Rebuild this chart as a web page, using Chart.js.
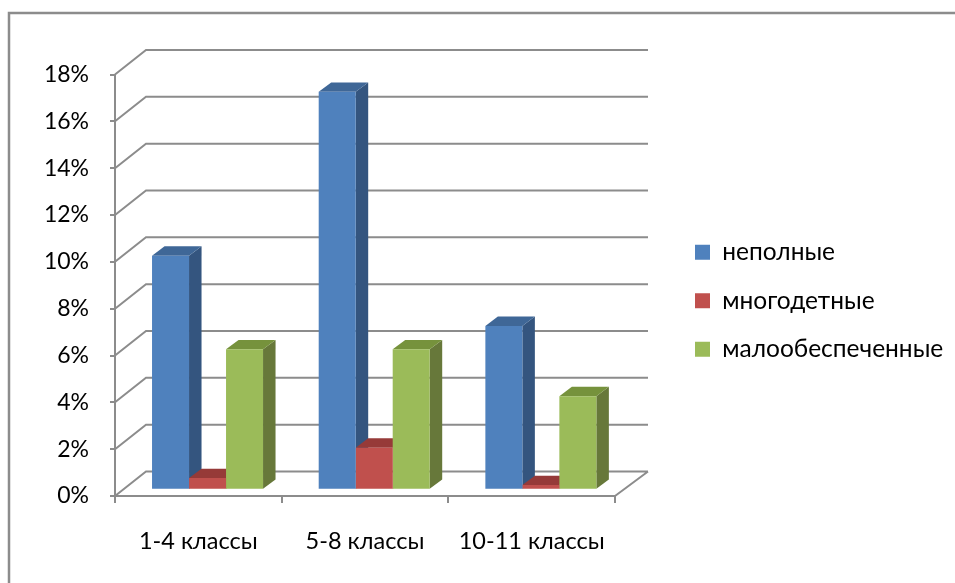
<!DOCTYPE html>
<html><head><meta charset="utf-8">
<style>html,body{margin:0;padding:0;background:#fff}canvas{display:block}</style>
<script src="https://cdn.jsdelivr.net/npm/chart.js@4"></script>
</head><body>
<canvas id="c" width="955" height="583"></canvas>
<script>
const categories = ['1-4 классы', '5-8 классы', '10-11 классы'];
const seriesNames = ['неполные', 'многодетные', 'малообеспеченные'];
const incomplete = [10, 17, 7];
const large = [0.5, 1.8, 0.2];
const lowIncome = [6, 6, 4];
const frontColors = ['#4F81BD', '#C0504D', '#9BBB59'];
const sideColors = ['#34557F', '#8E3937', '#67783A'];
const topColors = ['#3F6797', '#963A38', '#76923C'];
const GRID = '#8C8C8C', FONT = 'Lato, Carlito, "Open Sans", sans-serif';
const WALL = {dx: 31, dy: -24.5}, BAR_SHIFT = {dx: 9.2, dy: -6.2}, BAR_DEPTH = {dx: 12.5, dy: -9.3};

function poly(ctx, pts, fill) {
  ctx.beginPath();
  pts.forEach((p, i) => i ? ctx.lineTo(p[0], p[1]) : ctx.moveTo(p[0], p[1]));
  ctx.closePath();
  ctx.fillStyle = fill;
  ctx.fill();
}
const depthPlugin = {
  id: 'depth',
  afterLayout(chart) {
    const lg = chart.legend;
    lg.left = 695 - 24; lg.right = chart.width;
    lg.top = 216; lg.bottom = chart.height;
  },
  beforeDraw(chart) {
    const ctx = chart.ctx;
    ctx.save();
    ctx.strokeStyle = GRID; ctx.lineWidth = 2.5;
    ctx.beginPath();
    ctx.moveTo(9, 590); ctx.lineTo(9, 13); ctx.lineTo(960, 13);
    ctx.stroke();
    ctx.restore();
  },
  beforeDatasetsDraw(chart) {
    const ctx = chart.ctx, {x, y} = chart.scales, L = x.left, R = x.right;
    ctx.save();
    ctx.strokeStyle = GRID; ctx.lineWidth = 2;
    ctx.beginPath();
    y.ticks.forEach(t => {
      const py = y.getPixelForValue(t.value);
      ctx.moveTo(L, py);
      ctx.lineTo(L + WALL.dx, py + WALL.dy);
      ctx.lineTo(R + WALL.dx + 2, py + WALL.dy);
    });
    const y0 = y.getPixelForValue(0);
    ctx.moveTo(R, y0); ctx.lineTo(R + WALL.dx + 2, y0 + WALL.dy);
    ctx.stroke();
    ctx.restore();
    ctx.save();
    ctx.translate(BAR_SHIFT.dx, BAR_SHIFT.dy);
    const {dx, dy} = BAR_DEPTH;
    chart.data.datasets.forEach((d, i) => {
      chart.getDatasetMeta(i).data.forEach(el => {
        const l = el.x - el.width / 2, r = el.x + el.width / 2, t = el.y, b = el.base;
        poly(ctx, [[r, t], [r + dx, t + dy], [r + dx, b + dy], [r, b]], sideColors[i]);
        poly(ctx, [[l, t], [l + dx, t + dy], [r + dx, t + dy], [r, t]], topColors[i]);
      });
    });
  },
  afterDatasetsDraw(chart) { chart.ctx.restore(); }
};
const makeSet = (label, data, i) => ({label, data, backgroundColor: frontColors[i], borderWidth: 0, clip: false,
  categoryPercentage: 0.666, barPercentage: 1});
new Chart(document.getElementById('c'), {
  type: 'bar',
  plugins: [depthPlugin],
  data: {labels: categories, datasets: [makeSet(seriesNames[0], incomplete, 0), makeSet(seriesNames[1], large, 1), makeSet(seriesNames[2], lowIncome, 2)]},
  options: {
    responsive: false, animation: false, devicePixelRatio: 1,
    layout: {padding: {top: 74.5, left: 0, right: 140, bottom: 0}},
    plugins: {
      tooltip: {enabled: false},
      legend: {position: 'right', align: 'start', maxWidth: 200,
        labels: {boxWidth: 15, boxHeight: 15, padding: 24, color: '#000', font: {family: FONT, size: 24.5}}}
    },
    scales: {
      x: {
        afterFit: s => { s.height = 87; },
        grid: {drawOnChartArea: false, drawTicks: true, tickLength: 7, color: GRID, lineWidth: 2, offset: true},
        border: {color: GRID, width: 2},
        ticks: {color: '#000', padding: 24, maxRotation: 0, font: {family: FONT, size: 23.5}}
      },
      y: {
        min: 0, max: 18,
        afterFit: s => { s.width = 115; },
        grid: {drawOnChartArea: false, drawTicks: true, tickLength: 5, color: GRID, lineWidth: 2},
        border: {color: GRID, width: 2},
        ticks: {stepSize: 2, color: '#000', padding: 21, font: {family: FONT, size: 23}, callback: v => v + '%'}
      }
    }
  }
});
</script>
</body></html>
